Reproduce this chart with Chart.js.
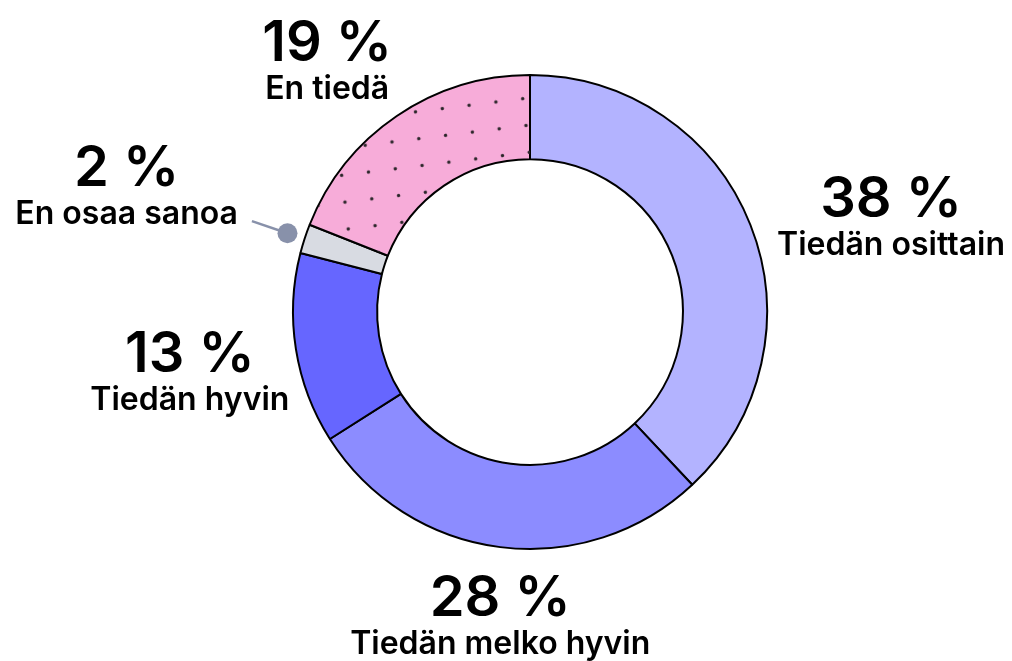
<!DOCTYPE html>
<html lang="fi">
<head>
<meta charset="utf-8">
<title>Tiedän</title>
<script src="https://cdn.jsdelivr.net/npm/chart.js@4/dist/chart.umd.min.js"></script>
<style>
  html, body { margin: 0; padding: 0; background: #fff; }
  #wrap { width: 1012px; height: 661px; }
</style>
</head>
<body>
<div id="wrap"><canvas id="donutChart" width="1012" height="661"></canvas></div>
<script>
const categories = ['Tiedän osittain', 'Tiedän melko hyvin', 'Tiedän hyvin', 'En osaa sanoa', 'En tiedä'];
const shares = [38, 28, 13, 2, 19];
const sliceColors = ['#b3b3ff', '#8c8cff', '#6666ff', '#d8dbe2', '#f7acd9'];
const dottedSlice = 4;

// label text nudges per slice [dx, dy]
const labelNudge = [[18, 12], [21, 11], [10, 13], [-55, -36], [-23, -9]];

const NUM_FONT = '600 56px Inter';
const TXT_FONT = '600 32px Inter';

function dotPattern(ctx) {
    const tile = document.createElement('canvas');
    tile.width = 27;
    tile.height = 27;
    const t = tile.getContext('2d');
    t.fillStyle = '#2a2529';
    t.beginPath();
    t.arc(13.5, 13.5, 1.7, 0, Math.PI * 2);
    t.fill();
    const p = ctx.createPattern(tile, 'repeat');
    p.setTransform(new DOMMatrix().translate(522.7, 98.7).rotate(-7).translate(-13.5, -13.5));
    return p;
}

const dotsPlugin = {
    id: 'dots',
    afterDatasetsDraw(chart) {
        const ctx = chart.ctx;
        const arc = chart.getDatasetMeta(0).data[dottedSlice];
        const {x, y, startAngle, endAngle, innerRadius, outerRadius} =
            arc.getProps(['x', 'y', 'startAngle', 'endAngle', 'innerRadius', 'outerRadius'], true);
        ctx.save();
        ctx.beginPath();
        ctx.arc(x, y, outerRadius - 1, startAngle, endAngle);
        ctx.arc(x, y, innerRadius + 1, endAngle, startAngle, true);
        ctx.closePath();
        ctx.clip();
        ctx.fillStyle = dotPattern(ctx);
        ctx.fillRect(0, 0, chart.width, chart.height);
        ctx.restore();
    }
};

const labelPlugin = {
    id: 'outerLabels',
    afterDraw(chart) {
        const ctx = chart.ctx;
        const arcs = chart.getDatasetMeta(0).data;
        ctx.save();
        ctx.textAlign = 'center';
        ctx.textBaseline = 'alphabetic';
        ctx.fillStyle = '#000';
        arcs.forEach((arc, i) => {
            const {x, y, startAngle, endAngle, outerRadius} =
                arc.getProps(['x', 'y', 'startAngle', 'endAngle', 'outerRadius'], true);
            const mid = (startAngle + endAngle) / 2;
            const ax = x + Math.cos(mid) * (outerRadius + 18);
            const ay = y + Math.sin(mid) * (outerRadius + 18);

            const numText = shares[i] + ' %';
            ctx.font = NUM_FONT;
            const wNum = ctx.measureText(numText).width;
            ctx.font = TXT_FONT;
            const wTxt = ctx.measureText(categories[i]).width;
            const w = Math.max(wNum, wTxt);
            const h = 78;

            const cx = ax + Math.cos(mid) * w / 2 + labelNudge[i][0];
            const cy = ay + Math.sin(mid) * h / 2 + labelNudge[i][1];
            const base = cy + 1;

            ctx.font = NUM_FONT;
            ctx.fillText(numText, cx, base);
            ctx.font = TXT_FONT;
            ctx.fillText(categories[i], cx, base + 38);

            if (shares[i] < 5) {
                ctx.strokeStyle = '#8891aa';
                ctx.lineWidth = 2.5;
                ctx.beginPath();
                ctx.moveTo(cx + wTxt / 2 + 14, base + 35);
                ctx.lineTo(ax, ay);
                ctx.stroke();
                ctx.fillStyle = '#8891aa';
                ctx.beginPath();
                ctx.arc(ax, ay, 10, 0, Math.PI * 2);
                ctx.fill();
                ctx.fillStyle = '#000';
            }
        });
        ctx.restore();
    }
};

new Chart(document.getElementById('donutChart'), {
    type: 'doughnut',
    data: {
        labels: categories,
        datasets: [{
            data: shares,
            backgroundColor: sliceColors,
            borderColor: '#000',
            borderWidth: 2,
            hoverOffset: 0
        }]
    },
    options: {
        responsive: false,
        animation: false,
        events: [],
        cutout: '64.5%',
        layout: {
            padding: { top: 74, bottom: 111, left: 292, right: 244 }
        },
        plugins: {
            legend: { display: false },
            tooltip: { enabled: false }
        }
    },
    plugins: [dotsPlugin, labelPlugin]
});
</script>
</body>
</html>
